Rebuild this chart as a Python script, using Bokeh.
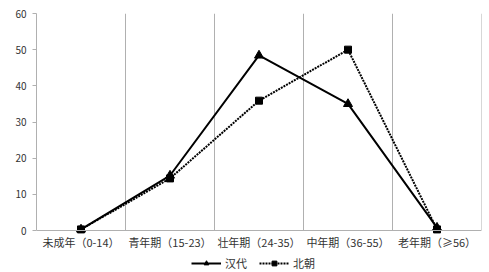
from bokeh.plotting import figure
from bokeh.models import FixedTicker, Legend, LegendItem, ColumnDataSource
from bokeh.embed import file_html
from bokeh.resources import INLINE

categories = ["未成年（0-14）", "青年期（15-23）", "壮年期（24-35）", "中年期（36-55）", "老年期（≥56）"]
han = [0.3, 15.2, 48.4, 35.0, 0.8]
beichao = [0.3, 14.4, 35.9, 50.0, 0.3]
series_names = ["汉代", "北朝"]
y_ticks = [0, 10, 20, 30, 40, 50, 60]

xs = [i + 0.5 for i in range(len(categories))]
bounds = [i + 1 for i in range(len(categories))]
FONT = "Noto Sans CJK SC"

# frame: y=60 at 13px, y=0 at 230px; frame extends to bottom of page for labels/legend
px_per_unit = 217 / 60.0
y_low = -(272 - 230) / px_per_unit

p = figure(output_backend="svg", toolbar_location=None,
           x_range=(0, len(categories)), y_range=(y_low, 60),
           frame_width=445, frame_height=259,
           min_border_left=36, min_border_right=8, min_border_top=13, min_border_bottom=0)
p.outline_line_color = None
p.background_fill_color = "white"
p.border_fill_color = "white"

# x axis drawn at y=0 inside the frame
p.xaxis.fixed_location = 0
p.xaxis.ticker = FixedTicker(ticks=xs)
p.xaxis.major_label_overrides = {x: c for x, c in zip(xs, categories)}
p.xaxis.major_tick_line_color = None
p.xaxis.major_tick_out = 0
p.xaxis.major_tick_in = 0
p.xaxis.minor_tick_line_color = None
p.xaxis.axis_line_color = "#b0b0b0"
p.xaxis.major_label_text_font = FONT
p.xaxis.major_label_text_font_size = "11px"
p.xaxis.major_label_text_color = "#333333"
p.xaxis.major_label_standoff = 3

p.yaxis.ticker = FixedTicker(ticks=y_ticks)
p.yaxis.bounds = (0, 60)
p.yaxis.axis_line_color = "#b0b0b0"
p.yaxis.major_tick_line_color = "#b0b0b0"
p.yaxis.major_tick_in = 0
p.yaxis.major_tick_out = 4
p.yaxis.minor_tick_line_color = None
p.yaxis.major_label_text_font = FONT
p.yaxis.major_label_text_font_size = "10px"
p.yaxis.major_label_text_color = "#333333"
p.yaxis.major_label_standoff = 6

p.ygrid.grid_line_color = None
p.xgrid.grid_line_color = None

# vertical category separators (grid lines) from 0 to 60
p.segment(x0=bounds, y0=[0] * len(bounds), x1=bounds, y1=[60] * len(bounds),
          line_color="#b0b0b0", line_width=1)

src = ColumnDataSource(dict(x=xs, han=han, bei=beichao))
l1 = p.line("x", "han", source=src, line_color="black", line_width=2)
m1 = p.scatter("x", "han", source=src, marker="triangle", size=9, fill_color="black", line_color="black")
l2 = p.line("x", "bei", source=src, line_color="black", line_width=2, line_dash="2 1")
m2 = p.scatter("x", "bei", source=src, marker="square", size=7, fill_color="black", line_color="black")

legend = Legend(items=[LegendItem(label=series_names[0], renderers=[l1, m1]),
                       LegendItem(label=series_names[1], renderers=[l2, m2])],
                orientation="horizontal", location=(155, 1))
legend.label_text_font = FONT
legend.label_text_font_size = "11px"
legend.label_text_color = "#333333"
legend.border_line_color = None
legend.background_fill_alpha = 0
legend.glyph_width = 30
legend.glyph_height = 12
legend.label_height = 12
legend.spacing = 12
legend.label_standoff = 4
legend.padding = 0
legend.margin = 0
p.add_layout(legend)

open("out.html", "w").write(file_html(p, INLINE))
